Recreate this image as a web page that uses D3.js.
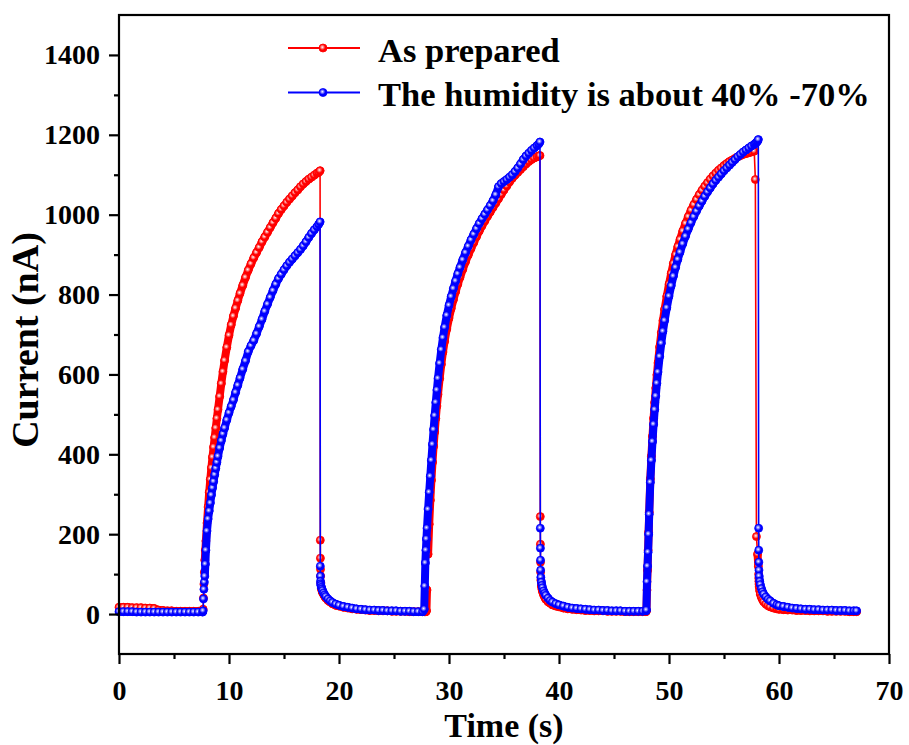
<!DOCTYPE html>
<html>
<head>
<meta charset="utf-8">
<script src="https://cdn.jsdelivr.net/npm/d3@7"></script>
<style>
  body { margin: 0; background: #fff; }
  svg text { font-family: "Liberation Serif", "Times New Roman", serif; font-weight: bold; fill: #000; }
</style>
</head>
<body>
<div id="chart"></div>
<script>
// time (s) and current (nA), one block per segment
var timeBase = [0, 0.4, 0.8, 1.2, 1.6, 2, 2.4, 2.8, 3.2, 3.6, 4, 4.4, 4.8, 5.2, 5.6, 6, 6.4, 6.8, 7.2, 7.6];
var prepBase = [17, 17, 17, 16, 16, 16, 15, 15, 14, 10, 9, 8, 8, 7, 7, 7, 7, 7, 7, 7];
var humBase = [6, 6, 6, 6, 5, 5, 5, 5, 5, 5, 5, 5, 5, 5, 5, 5, 5, 5, 5, 5];

var timeRise1 = [7.65, 7.68, 7.72, 7.76, 7.8, 7.85, 7.9, 8.0, 8.1, 8.2,
  8.3, 8.4, 8.5, 8.6, 8.7, 8.8, 8.9, 9.0, 9.15, 9.3,
  9.45, 9.6, 9.8, 10.0, 10.2, 10.4, 10.6, 10.8, 11.0, 11.25,
  11.5, 11.75, 12.0, 12.25, 12.5, 12.75, 13.0, 13.25, 13.5, 13.75,
  14.0, 14.25, 14.5, 14.75, 15.0, 15.25, 15.5, 15.75, 16.0, 16.25,
  16.5, 16.75, 17.0, 17.25, 17.5, 17.75, 18.0, 18.15, 18.28];
var prepRise1 = [12, 40, 75, 105, 135, 160, 183, 228, 268, 305,
  337, 366, 393, 418, 442, 466, 490, 512, 545, 577,
  607, 635, 668, 698, 724, 746, 766, 785, 803, 823,
  843, 861, 877, 892, 905, 918, 932, 944, 956, 968,
  980, 991, 1003, 1013, 1022, 1031, 1039, 1047, 1055, 1062,
  1070, 1077, 1083, 1089, 1094, 1099, 1104, 1106, 1110];
var humRise1 = [8, 38, 62, 80, 95, 125, 160, 208, 238, 258,
  278, 298, 316, 332, 349, 365, 380, 395, 416, 434,
  451, 466, 486, 504, 520, 536, 555, 573, 591, 613,
  634, 657, 672, 685, 702, 720, 738, 758, 776, 793,
  810, 826, 840, 851, 862, 872, 881, 889, 897, 905,
  913, 922, 932, 943, 953, 962, 970, 976, 982];

var timeFall1 = [18.3, 18.31, 18.32, 18.33, 18.35, 18.4, 18.45, 18.5, 18.6, 18.7,
  18.8, 19.0, 19.2, 19.4, 19.7,
  20.0, 20.4, 20.8, 21.2, 21.6, 22.0, 22.4, 22.8, 23.2, 23.6,
  24.0, 24.4, 24.8, 25.2, 25.6, 26.0, 26.4, 26.8, 27.2, 27.6];
var prepFall1 = [185, 140, 112, 95, 78, 64, 58, 54, 49, 44,
  40, 34, 30, 26, 22,
  20, 17, 15, 13, 12, 11, 10, 9, 9, 8,
  8, 8, 7, 7, 7, 7, 6, 6, 6, 6];
var humFall1 = [120, 95, 82, 76, 72, 67, 63, 59, 53, 48,
  44, 38, 33, 29, 25,
  22, 19, 17, 15, 13, 12, 11, 10, 10, 9,
  9, 8, 8, 8, 7, 7, 7, 6, 6, 6];

var timeRise2 = [27.75, 27.8, 27.85, 27.9, 27.95, 28.0, 28.1, 28.2, 28.3, 28.4,
  28.5, 28.6, 28.7, 28.8, 28.9, 29.0, 29.15, 29.3, 29.45, 29.6,
  29.8, 30.0, 30.2, 30.4, 30.6, 30.8, 31.0, 31.25, 31.5, 31.75,
  32.0, 32.25, 32.5, 32.75, 33.0, 33.25, 33.5, 33.75, 34.0, 34.25,
  34.5, 34.75, 35.0, 35.25, 35.5, 35.75, 36.0, 36.25, 36.5, 36.75,
  37.0, 37.25, 37.5, 37.75, 38.0, 38.15, 38.27];
var prepRise2 = [6, 6, 6, 6, 8, 60, 150, 225, 285, 335,
  380, 420, 456, 490, 521, 550, 590, 625, 656, 683,
  714, 741, 765, 787, 807, 826, 843, 863, 882, 899,
  915, 930, 945, 959, 972, 984, 996, 1007, 1018, 1029,
  1040, 1051, 1062, 1072, 1082, 1091, 1099, 1106, 1113, 1120,
  1127, 1133, 1138, 1142, 1145, 1147, 1148];
var humRise2 = [12, 70, 128, 160, 188, 215, 262, 305, 345, 385,
  425, 462, 497, 530, 561, 590, 628, 662, 692, 718,
  748, 773, 795, 815, 834, 852, 868, 887, 905, 921,
  937, 951, 965, 978, 990, 1001, 1012, 1023, 1035, 1050,
  1070, 1078, 1083, 1088, 1094, 1100, 1108, 1117, 1127, 1138,
  1147, 1154, 1161, 1167, 1173, 1177, 1182];

var timeFall2 = [38.3, 38.31, 38.32, 38.33, 38.35, 38.4, 38.45, 38.5, 38.6, 38.7,
  38.8, 39.0, 39.2, 39.4, 39.7,
  40.0, 40.4, 40.8, 41.2, 41.6, 42.0, 42.4, 42.8, 43.2, 43.6,
  44.0, 44.4, 44.8, 45.2, 45.6, 46.0, 46.4, 46.8, 47.2, 47.6];
var prepFall2 = [244, 175, 130, 105, 85, 70, 62, 56, 48, 42,
  37, 31, 27, 23, 20,
  18, 15, 13, 12, 11, 10, 9, 9, 8, 8,
  8, 7, 7, 7, 7, 6, 6, 6, 6, 6];
var humFall2 = [215, 165, 135, 110, 92, 80, 72, 66, 58, 52,
  47, 40, 34, 30, 26,
  23, 20, 17, 15, 14, 13, 12, 11, 10, 10,
  9, 9, 8, 8, 8, 7, 7, 7, 7, 7];

var timeRise3 = [47.9, 47.95, 48.0, 48.05, 48.1, 48.15, 48.2, 48.3, 48.4, 48.5,
  48.6, 48.7, 48.8, 48.9, 49.0, 49.15, 49.3, 49.45, 49.6, 49.8,
  50.0, 50.2, 50.4, 50.6, 50.8, 51.0, 51.25, 51.5, 51.75, 52.0,
  52.25, 52.5, 52.75, 53.0, 53.25, 53.5, 53.75, 54.0, 54.25, 54.5,
  54.75, 55.0, 55.25, 55.5, 55.75, 56.0, 56.25, 56.5, 56.75, 57.0,
  57.25, 57.5, 57.75, 57.85, 57.95, 58.05, 58.12];
var prepRise3 = [6, 8, 60, 110, 160, 205, 255, 338, 395, 445,
  490, 530, 566, 599, 629, 669, 704, 735, 763, 796,
  826, 853, 878, 900, 920, 938, 959, 978, 995, 1011,
  1025, 1038, 1050, 1061, 1071, 1080, 1089, 1097, 1104, 1111,
  1117, 1123, 1128, 1133, 1137, 1141, 1145, 1148, 1151, 1153,
  1155, 1157, 1159, 1088, 194, 150, 120];
var humRise3 = [8, 10, 81, 120, 155, 200, 250, 330, 385, 432,
  475, 512, 546, 578, 606, 645, 678, 708, 735, 767,
  796, 822, 846, 868, 888, 906, 927, 946, 964, 980,
  995, 1009, 1022, 1034, 1046, 1057, 1067, 1077, 1086, 1094,
  1102, 1110, 1117, 1124, 1131, 1138, 1145, 1151, 1157, 1162,
  1167, 1172, 1176, 1178, 1181, 1184, 1188];

var timeFall3 = [58.15, 58.16, 58.17, 58.18, 58.2, 58.25, 58.3, 58.4, 58.5, 58.6,
  58.8, 59.0, 59.2, 59.5, 59.8,
  60.0, 60.4, 60.8, 61.2, 61.6, 62.0, 62.4, 62.8, 63.2, 63.6,
  64.0, 64.4, 64.8, 65.2, 65.6, 66.0, 66.4, 66.8, 67.05];
var prepFall3 = [100, 90, 82, 75, 68, 58, 50, 42, 36, 31,
  25, 21, 18, 15, 13,
  12, 11, 10, 10, 9, 9, 9, 8, 8, 8,
  8, 7, 7, 7, 7, 7, 6, 6, 6];
var humFall3 = [215, 160, 130, 110, 95, 82, 74, 64, 56, 50,
  43, 37, 33, 27, 23,
  21, 19, 17, 15, 14, 13, 12, 12, 11, 11,
  10, 10, 10, 9, 9, 9, 8, 8, 8];

var xTicks = [0, 10, 20, 30, 40, 50, 60, 70];
var yTicks = [0, 200, 400, 600, 800, 1000, 1200, 1400];
var seriesNames = ["As prepared", "The humidity is about 40% -70%"];
var seriesColors = ["#ff0000", "#0000ff"];

var time = [].concat(timeBase, timeRise1, timeFall1, timeRise2, timeFall2, timeRise3, timeFall3);
var prepared = [].concat(prepBase, prepRise1, prepFall1, prepRise2, prepFall2, prepRise3, prepFall3);
var humid = [].concat(humBase, humRise1, humFall1, humRise2, humFall2, humRise3, humFall3);

var svgWidth = 909;
var svgHeight = 745;

var svg = d3.select("#chart")
  .append("svg")
  .attr("width", svgWidth)
  .attr("height", svgHeight);

var x = d3.scaleLinear().domain([0, 70]).range([119, 889]);
var y = d3.scaleLinear().domain([-100, 1500]).range([654, 15]);

// sphere-like markers
var defs = svg.append("defs");
seriesColors.forEach(function(c, i) {
  var g = defs.append("radialGradient")
    .attr("id", "ball" + i)
    .attr("cx", "42%").attr("cy", "40%").attr("r", "55%");
  g.append("stop").attr("offset", "0%").attr("stop-color", "#ffffff");
  g.append("stop").attr("offset", "25%").attr("stop-color", i === 0 ? "#ff9a9a" : "#9a9aff");
  g.append("stop").attr("offset", "65%").attr("stop-color", c);
  g.append("stop").attr("offset", "100%").attr("stop-color", c);
});

var seriesData = [prepared, humid];

var line = d3.line()
  .x(function(d) { return x(d[0]); })
  .y(function(d) { return y(d[1]); });

seriesData.forEach(function(vals, i) {
  var pts = time.map(function(t, j) { return [t, vals[j]]; });
  var g = svg.append("g");
  g.append("path")
    .datum(pts)
    .attr("d", line)
    .attr("fill", "none")
    .attr("stroke", seriesColors[i])
    .attr("stroke-width", 1.6);

  // where the samples sit close together the original markers merge into a band
  // (not on the sudden drops, which stay a thin line)
  var near = d3.pairs(pts).filter(function(p) {
    var dx = x(p[1][0]) - x(p[0][0]), dy = y(p[1][1]) - y(p[0][1]);
    return dx > 0.5 && dy < 12 && Math.sqrt(dx * dx + dy * dy) < 34;
  });
  g.selectAll("line.band")
    .data(near)
    .enter()
    .append("line")
    .attr("class", "band")
    .attr("x1", function(p) { return x(p[0][0]); })
    .attr("y1", function(p) { return y(p[0][1]); })
    .attr("x2", function(p) { return x(p[1][0]); })
    .attr("y2", function(p) { return y(p[1][1]); })
    .attr("stroke", seriesColors[i])
    .attr("stroke-width", 8)
    .attr("stroke-linecap", "round");

  g.selectAll("circle")
    .data(pts)
    .enter()
    .append("circle")
    .attr("cx", function(d) { return x(d[0]); })
    .attr("cy", function(d) { return y(d[1]); })
    .attr("r", 4)
    .attr("fill", "url(#ball" + i + ")")
    .attr("stroke", seriesColors[i])
    .attr("stroke-width", 0.8);
});

// frame
svg.append("rect")
  .attr("x", x(0)).attr("y", y(1500))
  .attr("width", x(70) - x(0)).attr("height", y(-100) - y(1500))
  .attr("fill", "none")
  .attr("stroke", "#000")
  .attr("stroke-width", 2.2);

// axes
svg.append("g")
  .attr("transform", "translate(0," + y(-100) + ")")
  .call(d3.axisBottom(x).tickValues(xTicks).tickSize(10).tickPadding(16).tickFormat(d3.format("d")));
svg.append("g")
  .attr("transform", "translate(0," + y(-100) + ")")
  .call(d3.axisBottom(x).tickValues([5, 15, 25, 35, 45, 55, 65]).tickSize(5).tickFormat(""));

svg.append("g")
  .attr("transform", "translate(" + x(0) + ",0)")
  .call(d3.axisLeft(y).tickValues(yTicks).tickSize(10).tickPadding(9).tickFormat(d3.format("d")));
svg.append("g")
  .attr("transform", "translate(" + x(0) + ",0)")
  .call(d3.axisLeft(y).tickValues([100, 300, 500, 700, 900, 1100, 1300]).tickSize(5).tickFormat(""));

svg.selectAll(".domain").remove();
svg.selectAll(".tick line").attr("stroke", "#000").attr("stroke-width", 2.2);
svg.selectAll(".tick text")
  .style("font-family", "'Liberation Serif', 'Times New Roman', serif")
  .style("font-weight", "bold")
  .style("font-size", "28px")
  .attr("fill", "#000");

// axis titles
svg.append("text")
  .attr("x", (x(0) + x(70)) / 2)
  .attr("y", 737)
  .attr("text-anchor", "middle")
  .style("font-size", "34px")
  .text("Time (s)");

svg.append("text")
  .attr("transform", "translate(38," + 340 + ") rotate(-90)")
  .attr("text-anchor", "middle")
  .style("font-size", "38px")
  .text("Current (nA)");

// legend
var legend = svg.append("g");
seriesNames.forEach(function(name, i) {
  var ly = 48 + i * 44.5;
  legend.append("line")
    .attr("x1", 288).attr("x2", 360)
    .attr("y1", ly).attr("y2", ly)
    .attr("stroke", seriesColors[i])
    .attr("stroke-width", 2);
  legend.append("circle")
    .attr("cx", 323).attr("cy", ly).attr("r", 4)
    .attr("fill", "url(#ball" + i + ")")
    .attr("stroke", seriesColors[i])
    .attr("stroke-width", 0.8);
  legend.append("text")
    .attr("x", 378)
    .attr("y", ly + 13.5)
    .style("font-size", "34.5px")
    .text(name);
});
</script>
</body>
</html>
